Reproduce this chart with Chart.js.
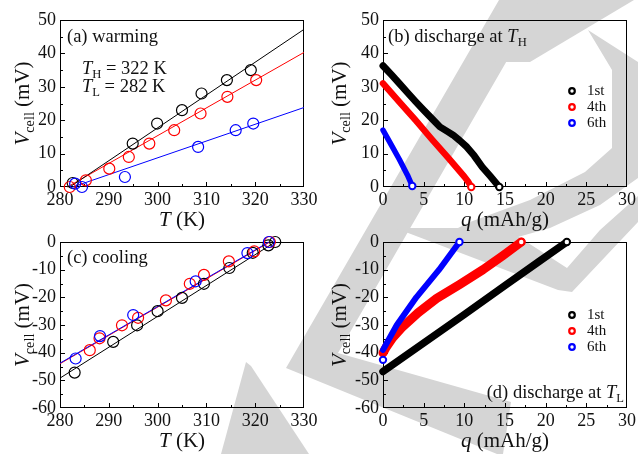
<!DOCTYPE html>
<html>
<head>
<meta charset="utf-8">
<title>Vcell warming / cooling / discharge</title>
<script src="https://cdn.jsdelivr.net/npm/chart.js@4.4.1/dist/chart.umd.min.js"></script>
<style>
  body { margin: 0; background: #fff; }
  #page { position: relative; width: 638px; height: 454px; overflow: hidden; }
  #page canvas { position: absolute; left: 0; top: 0; }
</style>
</head>
<body>
<div id="page">
  <canvas id="wm" width="638" height="454"></canvas>
  <canvas id="chartA" width="638" height="454"></canvas>
  <canvas id="chartB" width="638" height="454"></canvas>
  <canvas id="chartC" width="638" height="454"></canvas>
  <canvas id="chartD" width="638" height="454"></canvas>
</div>
<script>
// (a) warming - measured points and linear fits (T in K, V in mV)
var warmT1 = [282.6, 294.9, 299.9, 305.0, 309.0, 314.2, 319.1];
var warmV1 = [1.2, 13, 19, 23, 28, 32, 35];
var warmT4 = [282.0, 285.3, 290.1, 294.1, 298.3, 303.4, 308.8, 314.3, 320.2];
var warmV4 = [0, 2, 5.5, 9, 13, 17, 22, 27, 32];
var warmT6 = [283.1, 284.5, 293.3, 308.3, 316.0, 319.6];
var warmV6 = [1, 0, 3, 12, 17, 19];
var warmFitT1 = [282.0, 330], warmFitV1 = [0, 47.2];
var warmFitT4 = [281.5, 330], warmFitV4 = [0, 40.3];
var warmFitT6 = [282.6, 330], warmFitV6 = [0, 23.8];

// (b) discharge at TH (q in mAh/g)
var dischHQ1 = [0, 1, 2, 3, 4, 5, 6, 7, 8, 8.6, 9.4, 10.3, 11.2, 12.2, 13.2, 14.3];
var dischHV1 = [36.3, 33.7, 31, 28.3, 25.6, 23, 20.5, 18, 16.5, 15.6, 14, 12, 9.4, 6, 3.2, 0];
var dischHQ4 = [0, 2, 4, 6, 8, 10, 10.5, 10.85];
var dischHV4 = [31, 25.5, 20, 14.3, 8.8, 3.1, 1.5, 0];
var dischHQ6 = [0, 1, 2, 3, 3.6];
var dischHV6 = [17, 12.7, 8.3, 3.6, 0.3];

// (c) cooling
var coolT1 = [283.0, 290.9, 295.8, 300.0, 305.0, 309.5, 314.7, 319.5, 322.7, 324.1];
var coolV1 = [-47.2, -36.1, -30.1, -25.0, -20.2, -15.1, -9.4, -3.9, -1.2, 0];
var coolT4 = [286.1, 288.1, 292.7, 296.0, 301.7, 306.6, 309.5, 314.6, 319.8, 323.0];
var coolV4 = [-39.1, -34.8, -30.1, -27.4, -21.1, -15.1, -11.9, -7.0, -3.4, 0];
var coolT6 = [283.2, 288.2, 295.0, 307.8, 318.4, 322.8];
var coolV6 = [-42.1, -34.0, -26.4, -14.2, -4.0, 0];
var coolFitT1 = [280, 324.1], coolFitV1 = [-49.2, 0];
var coolFitT4 = [280, 323.0], coolFitV4 = [-44.0, 0];
var coolFitT6 = [280, 322.8], coolFitV6 = [-43.8, 0];

// (d) discharge at TL
var dischLQ1 = [0, 5, 10, 15, 19.2, 22.6];
var dischLV1 = [-46.8, -36.5, -26.2, -15.7, -7, 0];
var dischLQ4 = [0, 0.4, 1.2, 2.3, 4.3, 6.6, 9.4, 12.3, 14.7, 17];
var dischLV4 = [-40.1, -38, -34.6, -31, -25.6, -20.4, -15.4, -10, -5, 0];
var dischLQ6 = [0, 0.45, 1.7, 4.1, 6.9, 9.4];
var dischLV6 = [-39, -36.6, -30, -20, -10, 0];
var dischLQ6start = [0], dischLV6start = [-42.6];

var cycleLabels = ['1st', '4th', '6th'];
var cycleColors = ['#000000', '#ff0000', '#0000ff'];

// light grey watermark behind the panels (page pixels)
var wmShapes = [
    [[499, 0], [542, 0], [338, 353], [511, 402], [503, 454], [497, 454], [286, 368]],
    [[246, 362], [251, 366], [309, 454], [221, 454]],
    [[540, 0], [634, 0], [530, 62], [495, 62]],
    [[588, 30], [638, 62], [638, 178], [600, 205], [550, 228], [500, 242], [430, 242], [470, 222], [530, 200], [585, 172], [612, 148], [612, 70]],
    [[395, 228], [505, 228], [567, 268], [600, 230], [638, 196], [638, 222], [572, 292], [558, 290]]
];

var serif = '"Liberation Serif", "Times New Roman", serif';

function drawWatermark() {
    var c = document.getElementById('wm').getContext('2d');
    c.fillStyle = '#d5d5d5';
    wmShapes.forEach(function (p) {
        c.beginPath();
        c.moveTo(p[0][0], p[0][1]);
        for (var i = 1; i < p.length; i++) c.lineTo(p[i][0], p[i][1]);
        c.closePath();
        c.fill();
    });
}

function pts(xs, ys) {
    return xs.map(function (x, i) { return { x: x, y: ys[i] }; });
}

function circles(xs, ys, color, order) {
    return {
        data: pts(xs, ys), showLine: false, order: order, clip: false,
        pointRadius: 5.5, pointBorderWidth: 1.2, pointBorderColor: color,
        pointBackgroundColor: 'rgba(0,0,0,0)', borderColor: color
    };
}

function fitLine(xs, ys, color, order) {
    return {
        data: pts(xs, ys), showLine: true, order: order, clip: false,
        pointRadius: 0, borderWidth: 1, borderColor: color
    };
}

function band(xs, ys, color, width, order) {
    var last = xs.length - 1;
    return {
        data: pts(xs, ys), showLine: true, order: order, clip: false,
        borderWidth: width, borderColor: color, borderCapStyle: 'round', borderJoinStyle: 'round',
        pointRadius: function (c) { return c.dataIndex === last ? 3.2 : 0; },
        pointBorderWidth: 2, pointBorderColor: color, pointBackgroundColor: '#fff'
    };
}

function setFont(ctx, size, italic) {
    ctx.font = (italic ? 'italic ' : '') + size + 'px ' + serif;
}

// segs: [text, style] with style '' normal, 'i' italic, 's' subscript
function drawRich(ctx, segs, x, y, size, align, rotate) {
    var sub = size * 0.68, widths = [], total = 0;
    segs.forEach(function (s) {
        setFont(ctx, s[1] === 's' ? sub : size, s[1] === 'i');
        var w = ctx.measureText(s[0]).width;
        widths.push(w);
        total += w;
    });
    ctx.save();
    ctx.translate(x, y);
    if (rotate) ctx.rotate(-Math.PI / 2);
    var cx = align === 'center' ? -total / 2 : (align === 'right' ? -total : 0);
    ctx.textBaseline = 'middle';
    ctx.textAlign = 'left';
    segs.forEach(function (s, i) {
        setFont(ctx, s[1] === 's' ? sub : size, s[1] === 'i');
        ctx.fillText(s[0], cx, s[1] === 's' ? size * 0.3 : 0);
        cx += widths[i];
    });
    ctx.restore();
}

var decor = {
    id: 'decor',
    beforeDatasetsDraw: function (chart, args, o) {
        var ctx = chart.ctx, a = chart.chartArea, xs = chart.scales.x, ys = chart.scales.y;
        var i, n, p, len;
        ctx.save();
        ctx.strokeStyle = '#000';
        ctx.lineWidth = 1;
        ctx.strokeRect(a.left + 0.5, a.top + 0.5, a.right - a.left - 1, a.bottom - a.top - 1);
        ctx.beginPath();
        n = Math.round((xs.max - xs.min) / o.xMinor);
        for (i = 1; i < n; i++) {
            p = Math.round(xs.getPixelForValue(xs.min + i * o.xMinor)) + 0.5;
            len = i % 2 === 0 ? 5 : 3;
            ctx.moveTo(p, a.bottom);
            ctx.lineTo(p, a.bottom - len);
        }
        n = Math.round((ys.max - ys.min) / o.yMinor);
        for (i = 1; i < n; i++) {
            p = Math.round(ys.getPixelForValue(ys.min + i * o.yMinor)) + 0.5;
            len = i % 2 === 0 ? 5 : 3;
            ctx.moveTo(a.left, p);
            ctx.lineTo(a.left + len, p);
        }
        ctx.stroke();
        ctx.restore();
    },
    afterDraw: function (chart, args, o) {
        var ctx = chart.ctx, a = chart.chartArea;
        ctx.save();
        ctx.fillStyle = '#111';
        drawRich(ctx, o.xTitle, (a.left + a.right) / 2, a.bottom + 33, 21, 'center', false);
        drawRich(ctx, [['V', 'i'], ['cell', 's'], [' (mV)', '']], a.left + o.yTitleDx, (a.top + a.bottom) / 2, 21, 'center', true);
        (o.texts || []).forEach(function (t) {
            var x = t.from === 'R' ? a.right + t.dx : a.left + t.dx;
            var y = t.ay === 'B' ? a.bottom + t.dy : a.top + t.dy;
            drawRich(ctx, t.segs, x, y, t.size, t.align || 'left', false);
        });
        if (o.legendTop !== undefined) {
            cycleLabels.forEach(function (lab, i) {
                var y = a.top + o.legendTop + i * 16;
                var x = a.left + 189;
                ctx.beginPath();
                ctx.arc(x, y, 2.8, 0, Math.PI * 2);
                ctx.fillStyle = '#fff';
                ctx.fill();
                ctx.lineWidth = 2.2;
                ctx.strokeStyle = cycleColors[i];
                ctx.stroke();
                ctx.fillStyle = '#111';
                drawRich(ctx, [[lab, '']], x + 15, y, 15, 'left', false);
            });
        }
        ctx.restore();
    }
};

function axis(r, size, pad) {
    return {
        type: 'linear', min: r[0], max: r[1],
        grid: { display: false, drawTicks: false },
        border: { display: false },
        ticks: {
            stepSize: r[2], padding: pad, autoSkip: false, maxRotation: 0,
            color: '#111', font: { family: serif, size: 18 }
        },
        afterFit: function (s) {
            if (s.isHorizontal()) { s.height = size; } else { s.width = size; }
        }
    };
}

// box: plot area in page pixels [left, top, right, bottom]; xh/yw: axis band sizes
function makeChart(id, datasets, xr, yr, box, xh, yw, deco) {
    return new Chart(document.getElementById(id), {
        type: 'scatter',
        data: { datasets: datasets },
        options: {
            responsive: false, animation: false, devicePixelRatio: 1,
            layout: { padding: { left: box[0] - yw, top: box[1], right: 638 - box[2], bottom: 454 - box[3] - xh } },
            scales: { x: axis(xr, xh, 2), y: axis(yr, yw, 4) },
            plugins: { legend: { display: false }, tooltip: { enabled: false }, decor: deco }
        },
        plugins: [decor]
    });
}

drawWatermark();

var tempTitle = [['T', 'i'], [' (K)', '']];
var chargeTitle = [['q', 'i'], [' (mAh/g)', '']];

makeChart('chartA', [
    circles(warmT6, warmV6, cycleColors[2], 0),
    circles(warmT4, warmV4, cycleColors[1], 1),
    circles(warmT1, warmV1, cycleColors[0], 2),
    fitLine(warmFitT1, warmFitV1, cycleColors[0], 3),
    fitLine(warmFitT4, warmFitV4, cycleColors[1], 4),
    fitLine(warmFitT6, warmFitV6, cycleColors[2], 5)
], [280, 330, 10], [0, 50, 10], [60, 20, 304, 187], 40, 60, {
    xMinor: 5, yMinor: 5, xTitle: tempTitle, yTitleDx: -36.5,
    texts: [
        { segs: [['(a) warming', '']], dx: 7, dy: 17, size: 18.5 },
        { segs: [['T', 'i'], ['H', 's'], [' = 322 K', '']], dx: 22, dy: 49, size: 18.5 },
        { segs: [['T', 'i'], ['L', 's'], [' = 282 K', '']], dx: 22, dy: 67, size: 18.5 }
    ]
});

makeChart('chartB', [
    band(dischHQ6, dischHV6, cycleColors[2], 5.5, 0),
    band(dischHQ4, dischHV4, cycleColors[1], 6.5, 1),
    band(dischHQ1, dischHV1, cycleColors[0], 7, 2)
], [0, 30, 5], [0, 50, 10], [383, 20, 628, 187], 40, 64, {
    xMinor: 2.5, yMinor: 5, xTitle: chargeTitle, yTitleDx: -43, legendTop: 71,
    texts: [
        { segs: [['(b) discharge at ', ''], ['T', 'i'], ['H', 's']], dx: 5, dy: 17, size: 18.5 }
    ]
});

makeChart('chartC', [
    circles(coolT6, coolV6, cycleColors[2], 0),
    circles(coolT4, coolV4, cycleColors[1], 1),
    circles(coolT1, coolV1, cycleColors[0], 2),
    fitLine(coolFitT6, coolFitV6, cycleColors[2], 3),
    fitLine(coolFitT4, coolFitV4, cycleColors[1], 4),
    fitLine(coolFitT1, coolFitV1, cycleColors[0], 5)
], [280, 330, 10], [-60, 0, 10], [60, 242, 304, 408], 40, 60, {
    xMinor: 5, yMinor: 5, xTitle: tempTitle, yTitleDx: -36.5,
    texts: [
        { segs: [['(c) cooling', '']], dx: 7, dy: 16, size: 18.5 }
    ]
});

makeChart('chartD', [
    {
        data: pts(dischLQ6start, dischLV6start), showLine: false, order: 0, clip: false,
        pointRadius: 3.2, pointBorderWidth: 2, pointBorderColor: cycleColors[2], pointBackgroundColor: '#fff'
    },
    band(dischLQ6, dischLV6, cycleColors[2], 6, 1),
    band(dischLQ4, dischLV4, cycleColors[1], 9, 2),
    band(dischLQ1, dischLV1, cycleColors[0], 7.5, 3)
], [0, 30, 5], [-60, 0, 10], [383, 242, 628, 408], 40, 64, {
    xMinor: 2.5, yMinor: 5, xTitle: chargeTitle, yTitleDx: -43, legendTop: 73,
    texts: [
        { segs: [['(d) discharge at ', ''], ['T', 'i'], ['L', 's']], from: 'R', dx: -3, ay: 'B', dy: -15, size: 18.5, align: 'right' }
    ]
});
</script>
</body>
</html>
